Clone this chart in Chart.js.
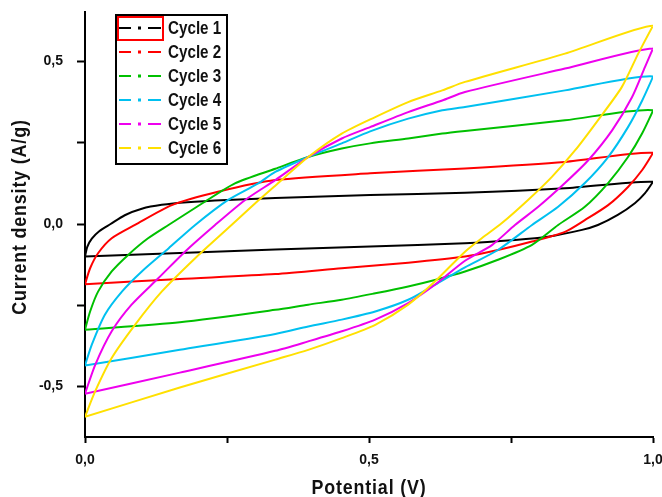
<!DOCTYPE html>
<html>
<head>
<meta charset="utf-8">
<script src="https://cdn.jsdelivr.net/npm/chart.js@4.4.0/dist/chart.umd.min.js"></script>
<style>
  html, body { margin: 0; padding: 0; background: #fff; }
</style>
</head>
<body>
<canvas id="cv_chart" width="662" height="497"></canvas>
<script>
// cyclic voltammetry loops
var cycleLabels = ['Cycle 1', 'Cycle 2', 'Cycle 3', 'Cycle 4', 'Cycle 5', 'Cycle 6'];
var cycleColors = ['#000000', '#ff0000', '#00c000', '#00c0f0', '#ee00ee', '#ffe000'];

var cycle1Potential = [0, 0.004, 0.012, 0.025, 0.045, 0.07, 0.1, 0.135, 0.18, 0.25, 0.335, 0.502, 0.669, 0.845, 1.0,
  0.986, 0.968, 0.938, 0.903, 0.875, 0.815, 0.757, 0.669, 0.502, 0.335, 0.167, 0];
var cycle1Current = [-0.1, -0.07, -0.045, -0.022, 0.0, 0.027, 0.047, 0.059, 0.067, 0.074, 0.08, 0.089, 0.096, 0.11, 0.13,
  0.095, 0.064, 0.028, -0.003, -0.018, -0.039, -0.049, -0.059, -0.069, -0.078, -0.089, -0.1];

var cycle2Potential = [0, 0.009, 0.023, 0.047, 0.088, 0.153, 0.234, 0.335, 0.502, 0.669, 0.845, 1.0,
  0.981, 0.956, 0.921, 0.88, 0.845, 0.787, 0.727, 0.669, 0.569, 0.452, 0.335, 0.167, 0];
var cycle2Current = [-0.185, -0.136, -0.09, -0.044, -0.003, 0.058, 0.099, 0.135, 0.156, 0.171, 0.191, 0.219,
  0.166, 0.114, 0.058, 0.012, -0.024, -0.054, -0.08, -0.1, -0.119, -0.136, -0.154, -0.169, -0.185];

var cycle3Potential = [0, 0.009, 0.023, 0.047, 0.076, 0.111, 0.147, 0.206, 0.264, 0.335, 0.393, 0.452, 0.502, 0.569, 0.629, 0.669, 0.845, 1.0,
  0.981, 0.956, 0.921, 0.88, 0.833, 0.787, 0.727, 0.669, 0.616, 0.569, 0.511, 0.452, 0.393, 0.335, 0.167, 0];
var cycle3Current = [-0.325, -0.269, -0.208, -0.146, -0.095, -0.044, -0.003, 0.063, 0.125, 0.17, 0.206, 0.232, 0.248, 0.263, 0.278, 0.286, 0.319, 0.35,
  0.279, 0.206, 0.126, 0.053, -0.003, -0.064, -0.11, -0.146, -0.172, -0.192, -0.213, -0.233, -0.248, -0.264, -0.302, -0.325];

var cycle4Potential = [0, 0.012, 0.035, 0.065, 0.1, 0.147, 0.194, 0.252, 0.305, 0.335, 0.393, 0.452, 0.502, 0.569, 0.629, 0.669, 0.845, 1.0,
  0.981, 0.956, 0.921, 0.88, 0.833, 0.787, 0.727, 0.669, 0.616, 0.569, 0.511, 0.452, 0.393, 0.335, 0.167, 0];
var cycle4Current = [-0.435, -0.371, -0.279, -0.208, -0.146, -0.075, -0.003, 0.074, 0.125, 0.16, 0.206, 0.248, 0.285, 0.324, 0.35, 0.36, 0.411, 0.454,
  0.38, 0.298, 0.206, 0.126, 0.053, -0.003, -0.08, -0.133, -0.187, -0.233, -0.269, -0.294, -0.315, -0.338, -0.387, -0.435];

var cycle5Potential = [0, 0.018, 0.047, 0.082, 0.129, 0.176, 0.229, 0.282, 0.335, 0.393, 0.452, 0.502, 0.569, 0.629, 0.669, 0.845, 1.0,
  0.986, 0.963, 0.928, 0.886, 0.845, 0.798, 0.757, 0.717, 0.669, 0.616, 0.569, 0.511, 0.452, 0.393, 0.335, 0.167, 0];
var cycle5Current = [-0.522, -0.433, -0.33, -0.248, -0.167, -0.085, -0.003, 0.074, 0.135, 0.206, 0.263, 0.298, 0.344, 0.38, 0.406, 0.478, 0.54,
  0.483, 0.39, 0.288, 0.196, 0.126, 0.053, -0.003, -0.064, -0.113, -0.187, -0.243, -0.294, -0.33, -0.361, -0.39, -0.457, -0.522];

var cycle6Potential = [0, 0.018, 0.047, 0.088, 0.135, 0.194, 0.258, 0.305, 0.335, 0.393, 0.452, 0.511, 0.569, 0.629, 0.669, 0.845, 1.0,
  0.974, 0.945, 0.903, 0.863, 0.822, 0.78, 0.734, 0.699, 0.669, 0.616, 0.569, 0.511, 0.452, 0.393, 0.335, 0.167, 0];
var cycle6Current = [-0.593, -0.514, -0.412, -0.31, -0.208, -0.105, -0.003, 0.072, 0.118, 0.206, 0.278, 0.329, 0.375, 0.411, 0.437, 0.524, 0.61,
  0.524, 0.421, 0.319, 0.227, 0.145, 0.074, 0.003, -0.043, -0.085, -0.177, -0.248, -0.31, -0.351, -0.387, -0.417, -0.503, -0.593];

var potentials = [cycle1Potential, cycle2Potential, cycle3Potential, cycle4Potential, cycle5Potential, cycle6Potential];
var currents = [cycle1Current, cycle2Current, cycle3Current, cycle4Current, cycle5Current, cycle6Current];

var xTicks = [0, 0.5, 1.0];
var yTicks = [-0.5, 0, 0.5];
var xTitle = 'Potential (V)';
var yTitle = 'Current density (A/g)';

function toPoints(xs, ys) {
  return xs.map(function(x, i) { return {x: x, y: ys[i]}; });
}

var datasets = cycleLabels.map(function(label, i) {
  return {
    label: label,
    data: toPoints(potentials[i], currents[i]),
    borderColor: cycleColors[i],
    backgroundColor: cycleColors[i],
    borderWidth: 2,
    showLine: true,
    pointRadius: 0,
    tension: 0.25,
    order: cycleLabels.length - i
  };
});

function isLabelled(list, v) {
  return list.some(function(t) { return Math.abs(t - v) < 1e-6; });
}

// decimal comma, as on the original axes
function commaLabel(v) {
  return v.toFixed(1).replace('.', ',');
}

// narrow bold text (no condensed font installed, so squeeze a normal one)
function narrowText(ctx, text, x, y, size, squeeze, spacing, angle) {
  ctx.save();
  ctx.translate(x, y);
  if (angle) ctx.rotate(angle);
  ctx.scale(squeeze, 1);
  ctx.font = 'bold ' + size + 'px "Liberation Sans", Arial, sans-serif';
  if (spacing) ctx.letterSpacing = spacing + 'px';
  ctx.textBaseline = 'middle';
  ctx.textAlign = 'center';
  ctx.fillStyle = '#111';
  ctx.fillText(text, 0, 0);
  ctx.restore();
}

var cvDecor = {
  id: 'cvDecor',
  afterDraw: function(chart) {
    var ctx = chart.ctx;
    var area = chart.chartArea;
    ctx.save();
    // legend box inside the plot
    ctx.fillStyle = '#fff';
    ctx.fillRect(116, 15, 111, 149);
    ctx.strokeStyle = '#000';
    ctx.lineWidth = 2;
    ctx.strokeRect(116, 15, 111, 149);
    chart.data.datasets.forEach(function(ds, i) {
      var y = 28 + 24 * i;
      ctx.strokeStyle = ds.borderColor;
      ctx.lineWidth = 2;
      ctx.beginPath();
      ctx.moveTo(119, y); ctx.lineTo(131, y);
      ctx.moveTo(148, y); ctx.lineTo(161, y);
      ctx.stroke();
      ctx.fillStyle = ds.borderColor;
      ctx.fillRect(138, y - 1.5, 3, 3);
      ctx.save();
      ctx.translate(168, y + 1);
      ctx.scale(0.8, 1);
      ctx.font = 'bold 19px "Liberation Sans", Arial, sans-serif';
      ctx.textBaseline = 'middle';
      ctx.fillStyle = '#111';
      ctx.fillText(ds.label, 0, 0);
      ctx.restore();
    });
    ctx.strokeStyle = '#ff0000';
    ctx.lineWidth = 2;
    ctx.strokeRect(118, 17, 45, 23);
    ctx.restore();

    // axis titles
    narrowText(ctx, xTitle, (area.left + area.right) / 2, 488, 21, 0.85, 1, 0);
    narrowText(ctx, yTitle, 20, 217, 21, 0.85, 1, -Math.PI / 2);
  }
};

var tickFont = {family: '"Liberation Sans", Arial, sans-serif', weight: 'bold', size: 14};

var ctx = document.getElementById('cv_chart').getContext('2d');
new Chart(ctx, {
  type: 'scatter',
  data: {datasets: datasets},
  options: {
    responsive: false,
    animation: false,
    layout: {padding: {top: 12, right: 9, left: 0, bottom: 0}},
    plugins: {legend: {display: false}, tooltip: {enabled: false}},
    scales: {
      x: {
        type: 'linear', min: 0, max: 1,
        ticks: {
          stepSize: 0.25, autoSkip: false, maxRotation: 0, padding: 9,
          font: tickFont, color: '#111',
          callback: function(v) { return isLabelled(xTicks, v) ? commaLabel(v) : ''; }
        },
        grid: {drawOnChartArea: false, drawTicks: true, tickLength: 6, tickWidth: 2, tickColor: '#000'},
        border: {display: true, color: '#000', width: 2},
        afterFit: function(s) { s.height = 60; s.paddingLeft = 0; s.paddingRight = 0; }
      },
      y: {
        type: 'linear', min: -0.655, max: 0.652,
        ticks: {
          stepSize: 0.25, includeBounds: false, autoSkip: false, padding: 14,
          font: tickFont, color: '#111',
          callback: function(v) { return isLabelled(yTicks, v) ? commaLabel(v) : ''; }
        },
        grid: {drawOnChartArea: false, drawTicks: true, tickLength: 8, tickWidth: 2, tickColor: '#000'},
        border: {display: true, color: '#000', width: 2},
        afterFit: function(s) { s.width = 85; s.paddingTop = 0; s.paddingBottom = 0; }
      }
    }
  },
  plugins: [cvDecor]
});
</script>
</body>
</html>
